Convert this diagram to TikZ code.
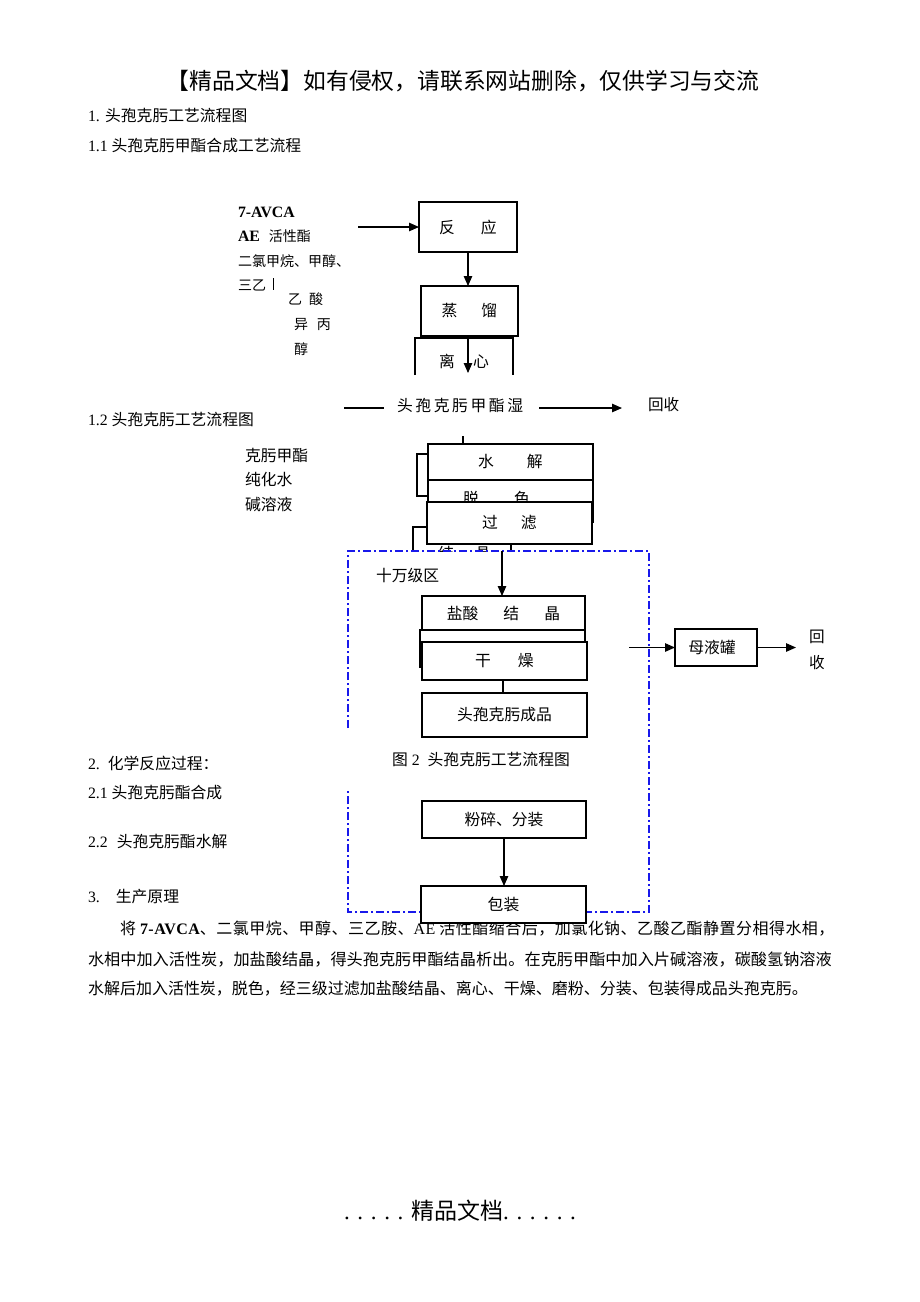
\documentclass[tikz,border=0pt]{standalone}
\usepackage{fontspec}
\setmainfont{Liberation Serif}
\newfontfamily\cjk{Noto Sans CJK SC}
\newfontfamily\cjkls[LetterSpace=3]{Noto Sans CJK SC}
\newfontfamily\latls[LetterSpace=3]{Liberation Serif}
\usetikzlibrary{arrows.meta}
\definecolor{dashblue}{RGB}{25,25,235}
\newcommand\fsz[1]{\fontsize{#1}{#1}\selectfont}
\begin{document}
\begin{tikzpicture}[x=1pt,y=-1pt,
  every node/.style={inner sep=0pt, outer sep=0pt},
  box/.style={draw, line width=1.1pt, fill=white, inner sep=0pt, font=\fsz{15.8}\cjk},
  txt/.style={anchor=west, font=\fsz{15.8}},
  small/.style={anchor=west, font=\fsz{14}},
  ln/.style={line width=1.1pt},
  arr/.style={line width=1.1pt, -{Triangle[length=10pt,width=8.5pt]}},
  zone/.style={dashblue, line width=1.6pt, dash pattern=on 8pt off 3pt on 2pt off 3pt}
]
\useasboundingbox (0,0) rectangle (920,1302);
\fill[white] (0,0) rectangle (920,1302);

% header and headings
\node[font=\fsz{22.8}\cjk] (hdr) at (463,81) {【精品文档】如有侵权，请联系网站删除，仅供学习与交流};
\node[txt] (h1) at (88,115) {1. {\cjk 头孢克肟工艺流程图}};
\node[txt] (h11) at (88,146) {1.1 {\cjk 头孢克肟甲酯合成工艺流程}};

% left inputs (part 1)
\node[small] (i1) at (238,212) {\fsz{15.8}\bfseries 7-AVCA};
\node[small] (i2) at (238,236) {{\fsz{15.8}\bfseries AE}\hspace{9pt}{\cjk 活性酯}};
\node[small] (i3) at (238,261) {\cjk 二氯甲烷、甲醇、};
\node[small] (i4) at (238,285) {\cjk 三乙};
\draw[line width=0.6pt] (273,278) -- (273,290);
\node[small] (i5) at (288,299) {\cjk 乙\hspace{7pt}酸};
\node[small] (i6) at (294,325) {\cjk 异\hspace{9pt}丙};
\node[small] (i7) at (294,349) {\cjk 醇};

% boxes part 1
\node[box, minimum width=98, minimum height=50] (fy) at (468,227) {反\hspace{26pt}应};
\node[box, minimum width=97, minimum height=50] (zl) at (469.5,311) {蒸\hspace{24pt}馏};
\draw[ln] (415,375) -- (415,338) -- (513,338) -- (513,375);
\node[font=\fsz{15.8}\cjk] (lx) at (464,361) {离\hspace{18pt}心};

\coordinate (a1) at (358,227);
\draw[arr] (a1) -- (fy.west);
\draw[arr] (fy.south) -- (fy.south |- zl.north);
\coordinate (lxend) at (468,373);
\draw[arr] (fy.south |- zl.south) -- (lxend);

% wet product row
\node[txt] (h12) at (88,419) {1.2 {\cjk 头孢克肟工艺流程图}};
\coordinate (w0) at (344,408);
\coordinate (w1) at (384,408);
\draw[ln] (w0) -- (w1);
\node[txt, font=\fsz{15.8}\cjk] (wet) at (397,405) {头\hspace{2.6pt}孢\hspace{2.6pt}克\hspace{2.6pt}肟\hspace{2.6pt}甲\hspace{2.6pt}酯\hspace{2.6pt}湿};
\node[txt, font=\fsz{15.6}\cjk] (hs1) at (648,405) {回收};
\coordinate (w2) at (539,408);
\coordinate (w3) at (622,408);
\draw[arr] (w2) -- (w3);

% left inputs (part 2)
\node[txt, font=\fsz{15.8}\cjk] (j1) at (245,455) {克肟甲酯};
\node[txt, font=\fsz{15.8}\cjk] (j2) at (245,479) {纯化水};
\node[txt, font=\fsz{15.8}\cjk] (j3) at (245,504) {碱溶液};

% hydrolysis group
\coordinate (t0) at (463,436);
\draw[ln] (t0) -- (463,444);
\node[box, minimum width=165, minimum height=36] (sj) at (510.5,462) {水\hspace{33pt}解};
\node[box, minimum width=165, minimum height=42] (tl) at (510.5,501) {};
\node[font=\fsz{15.8}\cjk] (tlt) at (496.5,498) {脱\hspace{35pt}色};
\draw[ln] (sj.west |- 0,454) -- (417,454) -- (417,496) -- (428,496);
\node[box, minimum width=165, minimum height=42] (gl) at (509.5,523) {过\hspace{23pt}滤\hspace{20pt}};
\draw[ln] (gl.west |- 0,527) -- (413,527) -- (413,551);
\draw[ln] (511,544) -- (511,550);
\begin{scope}
  \clip (430,544) rectangle (560,551.5);
  \node[font=\fsz{15.8}\cjk] (jjp) at (464.5,553) {结\hspace{21pt}晶};
\end{scope}

% clean zone
\draw[zone] (348,728) -- (348,551) -- (649,551) -- (649,912) -- (348,912) -- (348,789);
\node[txt, font=\fsz{15.8}\cjk] (zn) at (376,575) {十万级区};

\coordinate (z1) at (502,551);
\node[box, minimum width=163, minimum height=34] (ys) at (503.5,613) {\raisebox{-3pt}{盐酸\hspace{25pt}结\hspace{25pt}晶}};
\draw[arr] (z1) -- (z1 |- ys.north);
\node[box, minimum width=165, minimum height=37] (mid) at (502.5,648.5) {};
\draw[line width=0.6pt] (480,641) -- (480,643);
\node[box, minimum width=165, minimum height=38] (gz) at (504.5,661) {干\hspace{27pt}燥};
\node[box, minimum width=165, minimum height=44] (cp) at (504.5,715) {\raisebox{2pt}{头孢克肟成品}};
\draw[ln] (gz.south -| 503,0) -- (cp.north -| 503,0);

% mother liquor
\node[box, minimum width=82, minimum height=37] (myg) at (716,647.5) {\hspace{-8pt}母液罐};
\coordinate (m0) at (629,647.5);
\draw[arr] (m0) -- (myg.west);
\coordinate (m1) at (796,647.5);
\draw[arr] (myg.east) -- (m1);
\node[font=\fsz{15.6}\cjk] (hs2) at (817,637) {回};
\node[font=\fsz{15.6}\cjk] (hs3) at (817,663) {收};

% caption and section 2
\node[txt] (cap) at (392,759) {{\cjk 图} 2\hspace{8pt}{\cjk 头孢克肟工艺流程图}};
\node[txt] (h2) at (88,763) {2.\hspace{8pt}{\cjk 化学反应过程：}};
\node[txt] (h21) at (88,793) {2.1 {\cjk 头孢克肟酯合成}};
\node[txt] (h22) at (88,841) {2.2\hspace{9pt}{\cjk 头孢克肟酯水解}};
\node[txt] (h3) at (88,897) {3.\hspace{16pt}{\cjk 生产原理}};

% paragraph
\node[anchor=west, font=\fsz{16}] (p1) at (120,929) {{\cjkls 将} {\latls\bfseries 7-AVCA}{\cjkls 、二氯甲烷、甲醇、三乙胺、}{\latls AE} {\cjkls 活性酯缩合后，加氯化钠、乙酸乙酯静置分相得水相，}};
\node[anchor=west, font=\fsz{16.17}\cjk] (p2) at (88,960) {水相中加入活性炭，加盐酸结晶，得头孢克肟甲酯结晶析出。在克肟甲酯中加入片碱溶液，碳酸氢钠溶液};
\node[anchor=west, font=\fsz{16}\cjk] (p3) at (88,989) {水解后加入活性炭，脱色，经三级过滤加盐酸结晶、离心、干燥、磨粉、分装、包装得成品头孢克肟。};

% packing
\node[box, minimum width=164, minimum height=37] (fs) at (504,819.5) {粉碎、分装};
\node[box, minimum width=165, minimum height=37] (bz) at (503.5,904.5) {包装};
\draw[arr] (fs.south) -- (fs.south |- bz.north);

% footer
\node[font=\fsz{23}] (ft) at (460,1211) {. . . . . {\cjk 精品文档}. . . . . .};
\end{tikzpicture}
\end{document}
